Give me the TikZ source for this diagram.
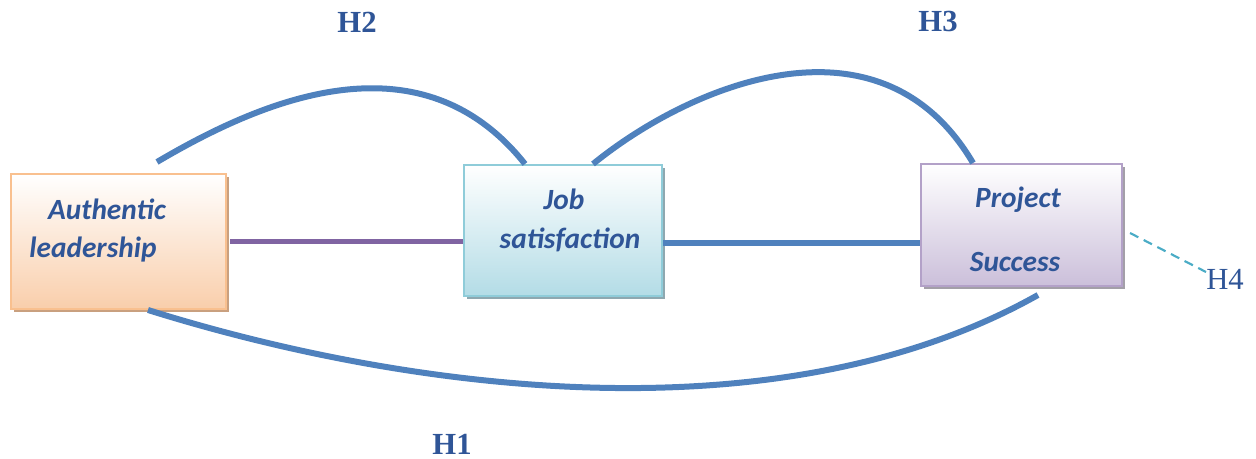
\documentclass[tikz,border=0pt]{standalone}
\usepackage{fontspec}
\setmainfont{Liberation Serif}
\newfontfamily\boxfont{Carlito}
\usetikzlibrary{shadows}
\definecolor{txtblue}{HTML}{2F5597}
\definecolor{lineblue}{HTML}{4F81BD}
\definecolor{linepurple}{HTML}{8064A2}
\definecolor{dashcyan}{HTML}{4BACC6}
\definecolor{peachedge}{HTML}{F9C08F}
\definecolor{peachfill}{HTML}{F9CEAB}
\definecolor{peachshadow}{HTML}{C9A07F}
\definecolor{cyanedge}{HTML}{8FCCD9}
\definecolor{cyanfill}{HTML}{B3DCE6}
\definecolor{cyanshadow}{HTML}{8EA8B0}
\definecolor{lavedge}{HTML}{B3A1C8}
\definecolor{lavfill}{HTML}{CBBFDA}
\definecolor{lavshadow}{HTML}{A39FA8}
\begin{document}
\begin{tikzpicture}[x=0.75pt,y=-0.75pt,
  conceptbox/.style={draw, line width=1.5pt, inner sep=0pt, anchor=north west,
    top color=white},
  boxlabel/.style={text=txtblue, font=\boxfont\bfseries\itshape\fontsize{22pt}{25pt}\selectfont, inner sep=0pt},
  hyp/.style={text=txtblue, font=\bfseries\fontsize{23pt}{26pt}\selectfont, inner sep=0pt},
  link/.style={line width=4.5pt, color=lineblue},
  flat/.style={line width=4pt}]
\useasboundingbox (0,0) rectangle (1256,459);

% boxes with a solid offset shadow
\node[conceptbox, draw=peachedge, bottom color=peachfill,
  drop shadow={shadow xshift=2.6pt, shadow yshift=-2.6pt, fill=peachshadow, opacity=1},
  minimum width=215*0.75pt, minimum height=135*0.75pt] (al) at (10,173) {};
\node[conceptbox, draw=cyanedge, bottom color=cyanfill,
  drop shadow={shadow xshift=2.6pt, shadow yshift=-2.6pt, fill=cyanshadow, opacity=1},
  minimum width=198*0.75pt, minimum height=131*0.75pt] (js) at (463,164) {};
\node[conceptbox, draw=lavedge, bottom color=lavfill,
  drop shadow={shadow xshift=2.6pt, shadow yshift=-2.6pt, fill=lavshadow, opacity=1},
  minimum width=201*0.75pt, minimum height=122*0.75pt] (ps) at (920,163) {};

% box texts
\node[boxlabel] (al1) at (107,209) {Authentic};
\node[boxlabel] (al2) at (93,250) {leadership};
\node[boxlabel] (js1) at (564,199) {Job};
\node[boxlabel] (js2) at (570,240) {satisfaction};
\node[boxlabel] (ps1) at (1018,200) {Project};
\node[boxlabel] (ps2) at (1015,262) {Success};

% straight links
\draw[flat, linepurple] (al.east) ++(3,0) -- (js.west |- al.east);
\draw[flat, lineblue] (js.east |- 0,243) -- (ps.west |- 0,243);

% curved hypothesis links
\coordinate (h2s) at (157,162);
\coordinate (h1e) at (1038,295);
\draw[link] (h2s) .. controls (262,100) and (420,32) .. (js.north -| 525,0);
\draw[link] (js.north -| 593,0) .. controls (690,85) and (880,5) .. (ps.north -| 973,0);
\draw[link] (al.south -| 148,0) .. controls (410,392) and (780,440) .. (h1e);

% hypothesis labels
\node[hyp] (H2) at (357,22) {H2};
\node[hyp] (H3) at (938,22) {H3};
\node[hyp] (H1) at (452,444) {H1};
\node[text=txtblue, font=\fontsize{23pt}{26pt}\selectfont, inner sep=0pt] (H4) at (1225,279) {H4};
\coordinate (h4s) at (1130,233);
\draw[dashcyan, line width=1.6pt, dash pattern=on 7pt off 4.5pt] (h4s) -- (H4.west |- 0,272) ++(-8,0);
\end{tikzpicture}
\end{document}
